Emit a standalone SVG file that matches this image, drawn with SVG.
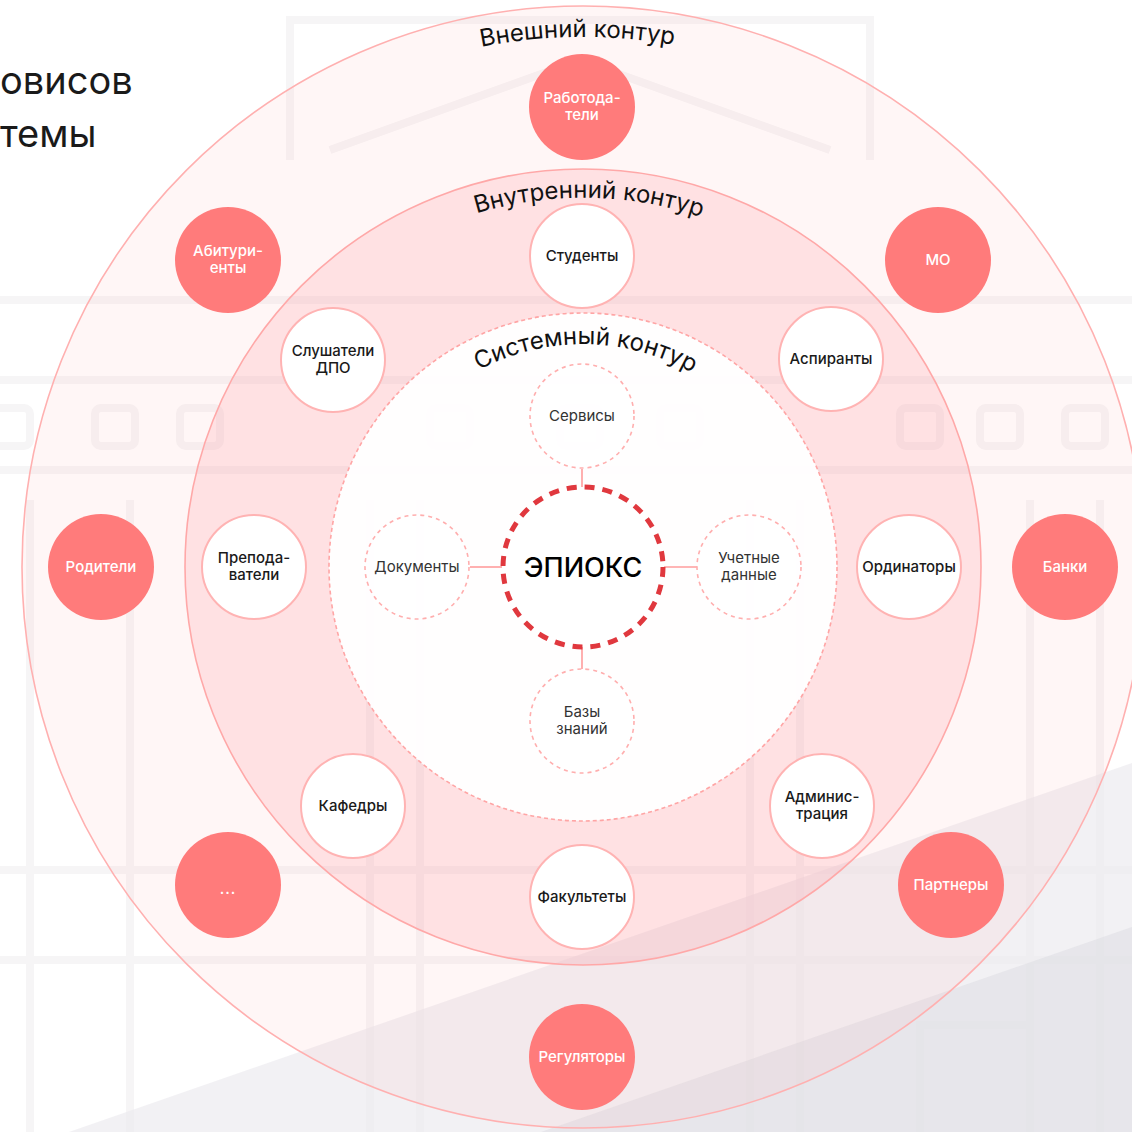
<svg xmlns="http://www.w3.org/2000/svg" width="1132" height="1132" viewBox="0 0 1132 1132">
  <style>
    text { font-family: Inter, "Noto Sans", "Liberation Sans", sans-serif; }
    .bg { fill: none; stroke: #F6F5F6; stroke-width: 8; }
    .ring-o { fill: #FFAAAA; fill-opacity: 0.1; stroke: #FFB0B0; stroke-width: 1.6; }
    .ring-i { fill: #FF8C96; fill-opacity: 0.19; stroke: #FFA8A8; stroke-width: 1.6; }
    .ring-s { fill: #FFFFFF; fill-opacity: 0.95; stroke: #FFA5A5; stroke-width: 1.6; stroke-dasharray: 4 3; }
    .ring-label { font-size: 24px; font-weight: 400; fill: #111; }
    .in { fill: #FFFFFF; stroke: #FFB3B3; stroke-width: 2; }
    .out { fill: #FF7B7B; }
    .sat { fill: #FFFFFF; fill-opacity: 0.6; stroke: #FFAEAE; stroke-width: 1.6; stroke-dasharray: 4 4; }
    .core { fill: #FFFFFF; stroke: #E0383E; stroke-width: 5; stroke-dasharray: 10 8; }
    .t-in { font-size: 15px; font-weight: 500; fill: #1A1A1A; text-anchor: middle; }
    .t-out { font-size: 15px; font-weight: 500; fill: #FFFFFF; text-anchor: middle; }
    .t-sat { font-size: 15px; font-weight: 400; fill: #333333; text-anchor: middle; }
    .t-core { font-size: 27px; font-weight: 500; fill: #000; text-anchor: middle; }
    .conn { stroke: #FF9C9C; stroke-width: 1.6; fill: none; }
    .title { font-size: 38px; font-weight: 400; fill: #1A1A1A; }
  </style>
  <defs>
    <path id="arc-outer" d="M 124 302 A 530 530 0 0 1 1042 302"/>
    <path id="arc-inner" d="M 263 382 A 370 370 0 0 1 903 382"/>
    <path id="arc-sys" d="M 390 455.5 A 223 223 0 0 1 776 455.5"/>
  </defs>

  <rect width="1132" height="1132" fill="#FFFFFF"/>

  <g id="background">
    <path class="bg" d="M 290 160 L 290 20 L 870 20 L 870 160"/>
    <path class="bg" d="M 330 150 L 580 60 L 830 150"/>
    <path class="bg" d="M 0 300 L 1132 300"/>
    <path class="bg" d="M 0 380 L 1132 380"/>
    <path class="bg" d="M 0 470 L 1132 470"/>
    <rect class="bg" x="-10" y="408" width="40" height="38" rx="6"/>
    <rect class="bg" x="95" y="408" width="40" height="38" rx="6"/>
    <rect class="bg" x="180" y="408" width="40" height="38" rx="6"/>
    <rect class="bg" x="430" y="408" width="40" height="38" rx="6"/>
    <rect class="bg" x="560" y="408" width="40" height="38" rx="6"/>
    <rect class="bg" x="660" y="408" width="40" height="38" rx="6"/>
    <rect class="bg" x="900" y="408" width="40" height="38" rx="6"/>
    <rect class="bg" x="980" y="408" width="40" height="38" rx="6"/>
    <rect class="bg" x="1065" y="408" width="40" height="38" rx="6"/>
    <path class="bg" d="M 30 1132 L 30 500 M 130 1132 L 130 500 M 370 1132 L 370 500 M 420 1132 L 420 500 M 750 1132 L 750 500 M 800 1132 L 800 500 M 1030 1132 L 1030 500 M 1100 1132 L 1100 500"/>
    <path class="bg" d="M 0 870 L 1132 870 M 0 960 L 1132 960"/>
    <path class="bg" d="M 920 1132 L 920 1025 L 1030 1025 L 1030 1132"/>
    <polygon points="1132,763 69,1132 1132,1132" fill="#EBEAEE" fill-opacity="0.65"/>
    <polygon points="1132,927 541,1132 1132,1132" fill="#DCDCE2" fill-opacity="0.5"/>
  </g>

  <g id="title">
    <text class="title" x="0" y="94">овисов</text>
    <text class="title" x="0" y="147">темы</text>
  </g>

  <g id="rings">
    <circle id="outer-contour" class="ring-o" cx="583" cy="567" r="561"/>
    <circle id="inner-contour" class="ring-i" cx="583" cy="567" r="398"/>
    <circle id="system-contour" class="ring-s" cx="583" cy="567" r="254"/>
    <text class="ring-label"><textPath href="#arc-outer" startOffset="49.5%" text-anchor="middle">Внешний контур</textPath></text>
    <text class="ring-label"><textPath href="#arc-inner" startOffset="50.8%" text-anchor="middle">Внутренний контур</textPath></text>
    <text class="ring-label" font-size="23"><textPath href="#arc-sys" startOffset="50.6%" text-anchor="middle">Системный контур</textPath></text>
  </g>

  <g id="connectors">
    <line class="conn" x1="582" y1="469" x2="582" y2="487"/>
    <line class="conn" x1="470" y1="567" x2="502" y2="567"/>
    <line class="conn" x1="664" y1="567" x2="697" y2="567"/>
    <line class="conn" x1="582" y1="647" x2="582" y2="669"/>
  </g>

  <g id="node-core">
    <circle class="core" cx="583" cy="567" r="80"/>
    <text class="t-core" x="583" y="577">ЭПИОКС</text>
  </g>

  <g id="node-services">
    <circle class="sat" cx="582" cy="416" r="52"/>
    <text class="t-sat" x="582" y="421">Сервисы</text>
  </g>
  <g id="node-documents">
    <circle class="sat" cx="417" cy="567" r="52"/>
    <text class="t-sat" x="417" y="572">Документы</text>
  </g>
  <g id="node-accounts">
    <circle class="sat" cx="749" cy="567" r="52"/>
    <text class="t-sat" x="749" y="563">Учетные</text>
    <text class="t-sat" x="749" y="580">данные</text>
  </g>
  <g id="node-knowledge">
    <circle class="sat" cx="582" cy="721" r="52"/>
    <text class="t-sat" x="582" y="717">Базы</text>
    <text class="t-sat" x="582" y="734">знаний</text>
  </g>

  <g id="node-students">
    <circle class="in" cx="582" cy="256" r="52"/>
    <text class="t-in" x="582" y="261">Студенты</text>
  </g>
  <g id="node-postgrads">
    <circle class="in" cx="831" cy="359" r="52"/>
    <text class="t-in" x="831" y="364">Аспиранты</text>
  </g>
  <g id="node-residents">
    <circle class="in" cx="909" cy="567" r="52"/>
    <text class="t-in" x="909" y="572">Ординаторы</text>
  </g>
  <g id="node-administration">
    <circle class="in" cx="822" cy="806" r="52"/>
    <text class="t-in" x="822" y="802">Админис-</text>
    <text class="t-in" x="822" y="819">трация</text>
  </g>
  <g id="node-faculties">
    <circle class="in" cx="582" cy="897" r="52"/>
    <text class="t-in" x="582" y="902">Факультеты</text>
  </g>
  <g id="node-departments">
    <circle class="in" cx="353" cy="806" r="52"/>
    <text class="t-in" x="353" y="811">Кафедры</text>
  </g>
  <g id="node-teachers">
    <circle class="in" cx="254" cy="567" r="52"/>
    <text class="t-in" x="254" y="563">Препода-</text>
    <text class="t-in" x="254" y="580">ватели</text>
  </g>
  <g id="node-listeners">
    <circle class="in" cx="333" cy="360" r="52"/>
    <text class="t-in" x="333" y="356">Слушатели</text>
    <text class="t-in" x="333" y="373">ДПО</text>
  </g>

  <g id="node-employers">
    <circle class="out" cx="582" cy="107" r="53"/>
    <text class="t-out" x="582" y="103">Работода-</text>
    <text class="t-out" x="582" y="120">тели</text>
  </g>
  <g id="node-mo">
    <circle class="out" cx="938" cy="260" r="53"/>
    <text class="t-out" x="938" y="265">МО</text>
  </g>
  <g id="node-banks">
    <circle class="out" cx="1065" cy="567" r="53"/>
    <text class="t-out" x="1065" y="572">Банки</text>
  </g>
  <g id="node-partners">
    <circle class="out" cx="951" cy="885" r="53"/>
    <text class="t-out" x="951" y="890">Партнеры</text>
  </g>
  <g id="node-regulators">
    <circle class="out" cx="582" cy="1057" r="53"/>
    <text class="t-out" x="582" y="1062">Регуляторы</text>
  </g>
  <g id="node-more">
    <circle class="out" cx="228" cy="885" r="53"/>
    <text class="t-out" x="228" y="894" font-weight="700" letter-spacing="1">...</text>
  </g>
  <g id="node-parents">
    <circle class="out" cx="101" cy="567" r="53"/>
    <text class="t-out" x="101" y="572">Родители</text>
  </g>
  <g id="node-applicants">
    <circle class="out" cx="228" cy="260" r="53"/>
    <text class="t-out" x="228" y="256">Абитури-</text>
    <text class="t-out" x="228" y="273">енты</text>
  </g>
</svg>
